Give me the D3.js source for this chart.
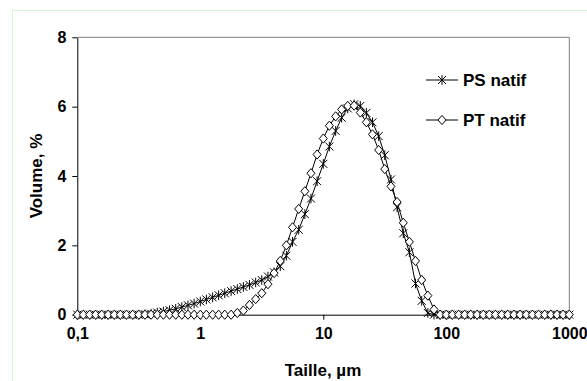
<!DOCTYPE html>
<html><head><meta charset="utf-8">
<script src="https://cdn.jsdelivr.net/npm/d3@7"></script>
<style>
html,body{margin:0;padding:0;background:#fff;}
text{font-family:"Liberation Sans",Arial,sans-serif;font-weight:bold;fill:#000;}
</style></head>
<body><svg id="c" width="587" height="381"></svg>
<script>
const sizes = [0.1,0.112,0.126,0.141,0.158,0.178,0.2,0.224,0.251,0.282,0.316,0.355,0.398,0.447,0.501,0.562,0.631,0.708,0.794,0.891,
1,1.12,1.26,1.41,1.58,1.78,2,2.24,2.51,2.82,3.16,3.55,3.98,4.47,5.01,5.62,6.31,7.08,7.94,8.91,
10,11.2,12.6,14.1,15.8,17.8,20,22.4,25.1,28.2,31.6,35.5,39.8,44.7,50.1,56.2,63.1,70.8,79.4,89.1,
100,112,126,141,158,178,200,224,251,282,316,355,398,447,501,562,631,708,794,891,
1000];
const psNatif = [0,0,0,0,0,0,0,0,0,0,0,
0.01,0.03,0.06,0.09,0.13,0.17,0.22,0.27,0.32,
0.38,0.44,0.5,0.56,0.62,0.68,0.74,0.8,0.86,0.93,
1.0,1.1,1.22,1.4,1.7,2.1,2.45,2.9,3.35,3.85,
4.35,4.85,5.3,5.68,5.95,6.07,6.02,5.82,5.55,5.15,
4.6,3.9,3.1,2.35,1.8,0.9,0.4,0.05,
0,0,0,0,0,0,0,0,0,0,0,0,0,0,0,0,0,0,0,0,0,0,0];
const ptNatif = [0,0,0,0,0,0,0,0,0,0,0,0,0,0,0,0,0,0,0,0,0,0,0,0,0,0,
0.05,0.12,0.28,0.45,0.62,0.88,1.2,1.55,2.0,2.52,
3.05,3.56,4.08,4.62,5.08,5.45,5.72,5.92,6.02,6.03,
5.83,5.55,5.2,4.75,4.2,3.7,3.25,2.65,2.1,1.55,
1.0,0.55,0.15,
0,0,0,0,0,0,0,0,0,0,0,0,0,0,0,0,0,0,0,0,0,0];
const xTicks = [0.1,1,10,100,1000];
const xTickLabels = ["0,1","1","10","100","1000"];
const yTicks = [0,2,4,6,8];
const seriesNames = ["PS natif","PT natif"];

const svg = d3.select("#c");
const x = d3.scaleLog().domain([0.1,1000]).range([77.3,569.3]);
const y = d3.scaleLinear().domain([0,8]).range([314.7,37.3]);

// outer chart frame
svg.append("rect").attr("x",12.5).attr("y",10.5).attr("width",600).attr("height",400)
  .attr("fill","none").attr("stroke","#d6f5d6").attr("stroke-width",1);

// plot area border (top/right gray)
svg.append("path").attr("d",`M${x(0.1)},${y(8)}H${x(1000)}V${y(0)}`)
  .attr("fill","none").attr("stroke","#808080").attr("stroke-width",1);

// axes
const xAxis = d3.axisBottom(x).tickValues(xTicks).tickFormat((d,i)=>xTickLabels[i]).tickSize(5).tickSizeOuter(0).tickPadding(8);
const gx = svg.append("g").attr("transform",`translate(0,${y(0)})`).call(xAxis);
gx.selectAll("text").style("font-size","16px");
const yAxis = d3.axisLeft(y).tickValues(yTicks).tickSize(5).tickSizeOuter(0).tickPadding(6);
const gy = svg.append("g").attr("transform",`translate(${x(0.1)},0)`).call(yAxis);
gy.selectAll("text").style("font-size","16px");
svg.selectAll(".domain,.tick line").attr("stroke","#000");
gx.selectAll("text").attr("font-family",null);
gy.selectAll("text").attr("font-family",null);

// titles
svg.append("text").attr("x",323).attr("y",376).attr("text-anchor","middle").style("font-size","17px").text("Taille, \u00b5m");
svg.append("text").attr("transform",`translate(42,176) rotate(-90)`).attr("text-anchor","middle").style("font-size","17px").text("Volume, %");

const line = d3.line().x(d=>x(d[0])).y(d=>y(d[1]));
const star = "M-4,-4L4,4M-4,4L4,-4M0,-4.8L0,4.8";
const diamond = "M0,-4.6L4,0L0,4.6L-4,0Z";

function drawSeries(vals, marker, fill){
  const pts = sizes.map((s,i)=>[s,vals[i]]);
  svg.append("path").datum(pts).attr("d",line).attr("fill","none").attr("stroke","#000").attr("stroke-width",1);
  svg.append("g").selectAll("path").data(pts).join("path")
    .attr("transform",d=>`translate(${x(d[0])},${y(d[1])})`)
    .attr("d",marker).attr("fill",fill).attr("stroke","#000").attr("stroke-width",1);
}
drawSeries(psNatif, star, "none");
drawSeries(ptNatif, diamond, "#fff");

// legend
const leg = [{name:seriesNames[0],m:star,f:"none",y:80},{name:seriesNames[1],m:diamond,f:"#fff",y:120}];
leg.forEach(l=>{
  svg.append("line").attr("x1",426).attr("x2",458).attr("y1",l.y).attr("y2",l.y).attr("stroke","#000");
  svg.append("path").attr("transform",`translate(442,${l.y})`).attr("d",l.m).attr("fill",l.f).attr("stroke","#000");
  svg.append("text").attr("x",463).attr("y",l.y).attr("dy","0.36em").style("font-size","17px").text(l.name);
});
</script></body></html>
